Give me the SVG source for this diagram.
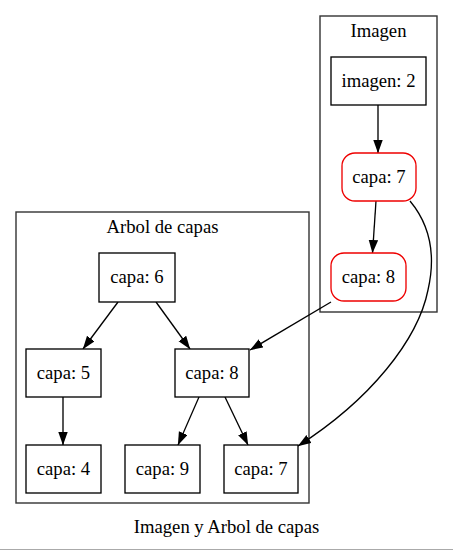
<svg xmlns="http://www.w3.org/2000/svg" width="453" height="551" viewBox="0 0 453 551">
<defs>
<marker id="arr" markerUnits="userSpaceOnUse" markerWidth="14" markerHeight="10" refX="13" refY="4.7" orient="auto">
<path d="M0,0 L13.3,4.7 L0,9.4 z" fill="#000"/>
</marker>
<style>
text{font-family:"Liberation Serif","Times New Roman",serif;font-size:18.67px;fill:#000;text-anchor:middle}
.cl{fill:none;stroke:#333;stroke-width:1.4}
.n{fill:#fff;stroke:#000;stroke-width:1.33}
.r{fill:#fff;stroke:#e00;stroke-width:1.33}
.e{fill:none;stroke:#000;stroke-width:1.33;marker-end:url(#arr)}
</style>
</defs>
<rect width="453" height="551" fill="#fff"/>
<g id="cluster_imagen">
<rect class="cl" x="320" y="16" width="117" height="296"/>
<text x="378.5" y="37">Imagen</text>
</g>
<g id="cluster_arbol">
<rect class="cl" x="16" y="212" width="293" height="291"/>
<text x="162.5" y="233">Arbol de capas</text>
</g>
<g id="connectors">
<path class="e" d="M378,105 L378,153"/>
<path class="e" d="M376,201 L372.5,253"/>
<path class="e" d="M118,302 L83,349"/>
<path class="e" d="M156,302 L190,349"/>
<path class="e" d="M63,397 L63,445"/>
<path class="e" d="M199,397 L178,445"/>
<path class="e" d="M225,397 L248,445"/>
<path class="e" d="M331,302 L250,350"/>
<path class="e" d="M410,201 C430,225 436,255 428,290 C418,340 370,400 298,446"/>
</g>
<g id="imagen2"><rect class="n" x="331" y="57" width="95" height="48"/><text x="378.5" y="87">imagen: 2</text></g>
<g id="img_capa7"><rect class="r" x="342" y="153" width="74" height="48" rx="13"/><text x="379" y="183">capa: 7</text></g>
<g id="img_capa8"><rect class="r" x="331" y="253" width="75" height="48" rx="13"/><text x="368.5" y="283">capa: 8</text></g>
<g id="capa6"><rect class="n" x="99" y="253" width="76" height="49"/><text x="137" y="283">capa: 6</text></g>
<g id="capa5"><rect class="n" x="26" y="349" width="75" height="48"/><text x="63.5" y="379">capa: 5</text></g>
<g id="capa8"><rect class="n" x="175" y="349" width="74" height="48"/><text x="212" y="379">capa: 8</text></g>
<g id="capa4"><rect class="n" x="26" y="445" width="75" height="48"/><text x="63.5" y="475">capa: 4</text></g>
<g id="capa9"><rect class="n" x="125" y="445" width="75" height="48"/><text x="162.5" y="475">capa: 9</text></g>
<g id="capa7"><rect class="n" x="224" y="445" width="74" height="48"/><text x="261" y="475">capa: 7</text></g>
<text x="226.5" y="533">Imagen y Arbol de capas</text>
<line x1="0" y1="549.5" x2="453" y2="549.5" stroke="#aaa" stroke-width="1"/>
</svg>
